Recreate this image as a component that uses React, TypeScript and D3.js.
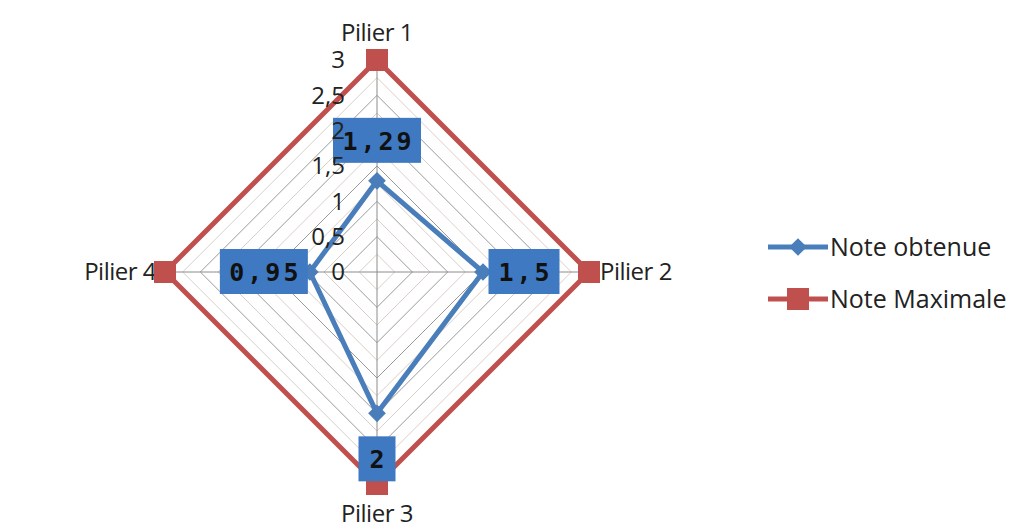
import React, { useEffect, useRef } from 'react';
import * as d3 from 'd3';

const axes = ['Pilier 1', 'Pilier 2', 'Pilier 3', 'Pilier 4'];
const noteObtenue = [1.29, 1.5, 2, 0.95];
const noteMaximale = [3, 3, 3, 3];
const tickValues = [0, 0.5, 1, 1.5, 2, 2.5, 3];
const tickLabels = ['0', '0,5', '1', '1,5', '2', '2,5', '3'];
const obtenueLabels = ['1,29', '1,5', '2', '0,95'];
const seriesNames = ['Note obtenue', 'Note Maximale'];

const BLUE = '#4a7ebb';
const RED = '#c0504d';
const BOX = '#3f79c1';

const App = () => {
  const ref = useRef<SVGSVGElement | null>(null);

  useEffect(() => {
    const svg = d3.select(ref.current);
    svg.selectAll('*').remove();

    const cx = 377,
      cy = 272,
      radius = 212;
    const font = '"Open Sans", Lato, sans-serif';

    const r = d3.scaleLinear().domain([0, 3]).range([0, radius]);
    const angle = (i: number) => (i * Math.PI * 2) / axes.length;
    const pt = (i: number, v: number): [number, number] => [
      cx + r(v) * Math.sin(angle(i)),
      cy - r(v) * Math.cos(angle(i)),
    ];

    const g = svg.append('g');

    // grid rings, every 0.25
    const rings = d3.range(0.25, 3.001, 0.25);
    g.selectAll('path.ring')
      .data(rings)
      .enter()
      .append('path')
      .attr('d', (v) => d3.line()(axes.map((_, i) => pt(i, v))) + 'Z')
      .attr('fill', 'none')
      .attr('stroke', (v) => (Math.abs(v * 2 - Math.round(v * 2)) < 1e-6 ? '#9a9a9a' : '#d9cfc7'))
      .attr('stroke-width', 1);

    // spokes
    g.selectAll('line.spoke')
      .data(axes)
      .enter()
      .append('line')
      .attr('x1', cx)
      .attr('y1', cy)
      .attr('x2', (_, i) => pt(i, 3)[0])
      .attr('y2', (_, i) => pt(i, 3)[1])
      .attr('stroke', '#8c8c8c')
      .attr('stroke-width', 1);

    // axis labels
    const labelPos: [number, number, string][] = [
      [cx, 33, 'middle'],
      [600, cy, 'start'],
      [cx, 514, 'middle'],
      [156, cy, 'end'],
    ];
    g.selectAll('text.axis')
      .data(axes)
      .enter()
      .append('text')
      .attr('x', (_, i) => labelPos[i][0])
      .attr('y', (_, i) => labelPos[i][1])
      .attr('dy', '0.35em')
      .attr('text-anchor', (_, i) => labelPos[i][2])
      .attr('font-family', font)
      .attr('font-size', 24)
      .attr('letter-spacing', -0.5)
      .attr('fill', '#222')
      .text((d) => d);

    // series
    const drawLine = (vals: number[], color: string) =>
      g
        .append('path')
        .attr('d', d3.line()(vals.map((v, i) => pt(i, v))) + 'Z')
        .attr('fill', 'none')
        .attr('stroke', color)
        .attr('stroke-width', 5)
        .attr('stroke-linejoin', 'round');

    drawLine(noteObtenue, BLUE);
    g.selectAll('path.diamond')
      .data(noteObtenue)
      .enter()
      .append('path')
      .attr('d', d3.symbol(d3.symbolDiamond2, 200)())
      .attr('transform', (v, i) => `translate(${pt(i, v)})`)
      .attr('fill', BLUE);

    drawLine(noteMaximale, RED);
    g.selectAll('rect.square')
      .data(noteMaximale)
      .enter()
      .append('rect')
      .attr('x', (v, i) => pt(i, v)[0] - 11)
      .attr('y', (v, i) => pt(i, v)[1] - 11)
      .attr('width', 22)
      .attr('height', 22)
      .attr('fill', RED);

    // data labels of "Note obtenue"
    const off: [number, number][] = [
      [0, -40],
      [41, 0],
      [0, 46],
      [-46, 0],
    ];
    const boxW = (s: string) => s.length * 17 + 20;
    const lbl = g
      .selectAll('g.lbl')
      .data(noteObtenue)
      .enter()
      .append('g')
      .attr('transform', (v, i) => {
        const p = pt(i, v);
        return `translate(${p[0] + off[i][0]},${p[1] + off[i][1]})`;
      });
    lbl
      .append('rect')
      .attr('x', (_, i) => -boxW(obtenueLabels[i]) / 2)
      .attr('y', -23)
      .attr('width', (_, i) => boxW(obtenueLabels[i]))
      .attr('height', 45)
      .attr('fill', BOX);
    lbl
      .append('text')
      .attr('text-anchor', 'middle')
      .attr('dy', '0.35em')
      .attr('dx', 1.5)
      .attr('font-family', '"DejaVu Sans Mono", monospace')
      .attr('font-weight', 'bold')
      .attr('font-size', 25)
      .attr('letter-spacing', 3)
      .attr('fill', '#111')
      .text((_, i) => obtenueLabels[i]);

    // tick labels (drawn on top, as in the original)
    g.selectAll('text.tick')
      .data(tickValues)
      .enter()
      .append('text')
      .attr('x', cx - 32)
      .attr('y', (v) => cy - r(v))
      .attr('dy', '0.35em')
      .attr('text-anchor', 'end')
      .attr('font-family', font)
      .attr('font-size', 24)
      .attr('fill', '#222')
      .text((_, i) => tickLabels[i]);

    // legend
    const legend = g
      .selectAll('g.legend')
      .data(seriesNames)
      .enter()
      .append('g')
      .attr('transform', (_, i) => `translate(768,${247 + i * 52})`);
    legend
      .append('line')
      .attr('x1', 0)
      .attr('x2', 60)
      .attr('stroke', (_, i) => (i === 0 ? BLUE : RED))
      .attr('stroke-width', 5);
    legend
      .filter((_, i) => i === 0)
      .append('path')
      .attr('d', d3.symbol(d3.symbolDiamond2, 200)())
      .attr('transform', 'translate(30,0)')
      .attr('fill', BLUE);
    legend
      .filter((_, i) => i === 1)
      .append('rect')
      .attr('x', 19)
      .attr('y', -11)
      .attr('width', 22)
      .attr('height', 22)
      .attr('fill', RED);
    legend
      .append('text')
      .attr('x', 62)
      .attr('dy', '0.35em')
      .attr('font-family', font)
      .attr('font-size', 25)
      .attr('fill', '#222')
      .text((d) => d);
  }, []);

  return (
    <svg
      ref={ref}
      width={1024}
      height={532}
      style={{ position: 'absolute', left: 0, top: 0, background: '#fff' }}
    />
  );
};

export default App;
